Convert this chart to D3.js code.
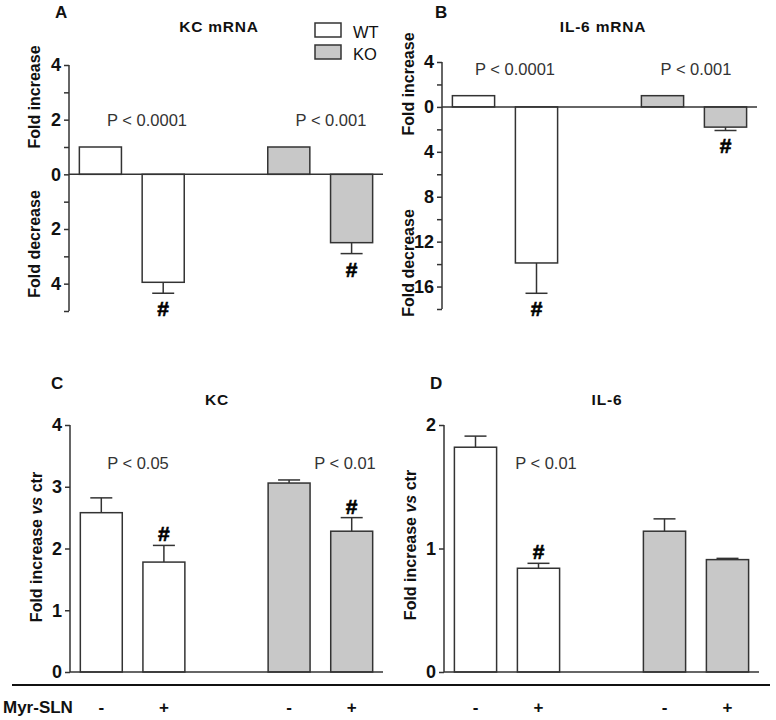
<!DOCTYPE html>
<html>
<head>
<meta charset="utf-8">
<script src="https://cdn.jsdelivr.net/npm/d3@7"></script>
<style>
  html, body { margin: 0; padding: 0; background: #fff; }
  svg { display: block; font-family: "Liberation Sans", Arial, sans-serif; }
</style>
</head>
<body>
<svg id="chart" width="776" height="720"></svg>
<script>
// ---------------- DATA ----------------
const slots = ["WT-", "WT+", "gap", "KO-", "KO+"];
const barKeys = ["WT-", "WT+", "KO-", "KO+"];
const genotype = ["WT", "WT", "KO", "KO"];
const treatment = ["-", "+", "-", "+"];
const legendLabels = ["WT", "KO"];

const kcMrnaValues = [1, -3.95, 1, -2.5];
const kcMrnaErrors = [0, 0.4, 0, 0.4];
const kcMrnaMarks = [false, true, false, true];
const kcMrnaP = ["P < 0.0001", "P < 0.001"];

const il6MrnaValues = [1, -13.9, 1, -1.8];
const il6MrnaErrors = [0, 2.7, 0, 0.3];
const il6MrnaMarks = [false, true, false, true];
const il6MrnaP = ["P < 0.0001", "P < 0.001"];

const kcValues = [2.58, 1.78, 3.06, 2.28];
const kcErrors = [0.24, 0.27, 0.05, 0.22];
const kcMarks = [false, true, false, true];
const kcP = ["P < 0.05", "P < 0.01"];

const il6Values = [1.82, 0.84, 1.14, 0.91];
const il6Errors = [0.09, 0.04, 0.10, 0.01];
const il6Marks = [false, true, false, false];
const il6P = ["P < 0.01"];

const kcMrnaTicks = [4, 2, 0, -2, -4];
const kcMrnaMinor = [3, 1, -1, -3, -5];
const il6MrnaTicks = [4, 0, -4, -8, -12, -16];
const il6MrnaMinor = [2, -2, -6, -10, -14, -18];
const kcTicks = [0, 1, 2, 3, 4];
const il6Ticks = [0, 1, 2];

// ---------------- STYLE ----------------
const fillFor = { WT: "#ffffff", KO: "#c8c8c8" };
const strokeCol = "#333333";
const textCol = "#111111";

const svg = d3.select("#chart");

function panel(cfg) {
  const g = svg.append("g");
  const x = d3.scaleBand().domain(slots).range([cfg.x0, cfg.x1])
    .paddingInner(0.33).paddingOuter(0.165);
  const y = d3.scaleLinear().domain(cfg.domain).range([cfg.yBottom, cfg.yTop]);

  if (cfg.minor) {
    g.append("g").attr("transform", `translate(${cfg.x0},0)`)
      .call(d3.axisLeft(y).tickValues(cfg.minor).tickSize(5).tickFormat(""))
      .call(a => a.select(".domain").remove())
      .selectAll("line").attr("stroke", strokeCol).attr("stroke-width", 1.5);
  }
  const ax = g.append("g").attr("transform", `translate(${cfg.x0},0)`)
    .call(d3.axisLeft(y).tickValues(cfg.ticks).tickSize(5).tickPadding(3)
      .tickFormat(d => Math.abs(d)));
  ax.select(".domain").attr("stroke", strokeCol).attr("stroke-width", 1.5)
    .attr("d", `M-0,${cfg.yBottom}V${cfg.yTop}`);
  ax.selectAll("line").attr("stroke", strokeCol).attr("stroke-width", 1.5);
  ax.selectAll("text").attr("fill", textCol)
    .style("font-size", "18px").style("font-weight", "bold")
    .style("font-family", "'Liberation Sans', Arial, sans-serif");

  const data = barKeys.map((k, i) => ({
    k, v: cfg.values[i], e: cfg.errors[i], mark: cfg.marks[i], gt: genotype[i]
  }));
  const bx = d => x(d.k);
  const bw = x.bandwidth();

  data.filter(d => d.e > 0).forEach(d => {
    const end = d.v >= 0 ? d.v + d.e : d.v - d.e;
    const cx = bx(d) + bw / 2;
    g.append("line").attr("x1", cx).attr("x2", cx)
      .attr("y1", y(d.v)).attr("y2", y(end))
      .attr("stroke", strokeCol).attr("stroke-width", 1.5);
    g.append("line").attr("x1", cx - 11).attr("x2", cx + 11)
      .attr("y1", y(end)).attr("y2", y(end))
      .attr("stroke", strokeCol).attr("stroke-width", 1.5);
  });

  g.selectAll("rect.bar").data(data).join("rect")
    .attr("class", "bar")
    .attr("x", bx).attr("width", bw)
    .attr("y", d => y(Math.max(0, d.v)))
    .attr("height", d => Math.abs(y(d.v) - y(0)))
    .attr("fill", d => fillFor[d.gt])
    .attr("stroke", strokeCol).attr("stroke-width", 1.5);

  g.append("line").attr("x1", cfg.x0).attr("x2", cfg.x1)
    .attr("y1", y(0)).attr("y2", y(0))
    .attr("stroke", strokeCol).attr("stroke-width", 1.5);

  data.filter(d => d.mark).forEach(d => {
    const end = d.v >= 0 ? d.v + d.e : d.v - d.e;
    const ty = d.v >= 0 ? y(end) - 4 : y(end) + 23;
    g.append("text").attr("x", bx(d) + bw / 2).attr("y", ty)
      .attr("text-anchor", "middle").attr("fill", "#000")
      .attr("stroke", "#000").attr("stroke-width", 0.6)
      .style("font-size", "21px").style("font-weight", "bold").text("#");
  });

  cfg.pLabels.forEach(p => {
    g.append("text").attr("x", p.x).attr("y", p.y).attr("text-anchor", "middle")
      .attr("fill", "#333").style("font-size", "16.5px").text(p.t);
  });

  g.append("text").attr("x", cfg.titleX).attr("y", cfg.titleY).attr("text-anchor", "middle")
    .attr("fill", textCol).style("font-size", "15.5px").style("font-weight", "bold")
    .style("letter-spacing", "0.8px").text(cfg.title);
  g.append("text").attr("x", cfg.letterX).attr("y", cfg.letterY)
    .attr("fill", textCol).style("font-size", "17px").style("font-weight", "bold").text(cfg.letter);

  cfg.yLabels.forEach(l => {
    const t = g.append("text")
      .attr("transform", `translate(${l.x},${l.y}) rotate(-90)`)
      .attr("text-anchor", "middle").attr("fill", textCol)
      .style("font-size", "16px").style("font-weight", "bold");
    l.parts.forEach(p => {
      t.append("tspan").style("font-style", p.italic ? "italic" : "normal").text(p.t);
    });
  });

  return { x, y };
}

const A = panel({
  x0: 69, x1: 383, yTop: 65, yBottom: 311, domain: [-5, 4],
  ticks: kcMrnaTicks, minor: kcMrnaMinor,
  values: kcMrnaValues, errors: kcMrnaErrors, marks: kcMrnaMarks,
  pLabels: [{ x: 147, y: 126, t: kcMrnaP[0] }, { x: 331, y: 126, t: kcMrnaP[1] }],
  title: "KC mRNA", titleX: 219, titleY: 32, letter: "A", letterX: 55, letterY: 18,
  yLabels: [{ x: 40, y: 97, parts: [{ t: "Fold increase" }] },
            { x: 40, y: 244, parts: [{ t: "Fold decrease" }] }]
});

const B = panel({
  x0: 442, x1: 757, yTop: 62, yBottom: 309, domain: [-18, 4],
  ticks: il6MrnaTicks, minor: il6MrnaMinor,
  values: il6MrnaValues, errors: il6MrnaErrors, marks: il6MrnaMarks,
  pLabels: [{ x: 515, y: 75, t: il6MrnaP[0] }, { x: 696, y: 75, t: il6MrnaP[1] }],
  title: "IL-6 mRNA", titleX: 603, titleY: 32, letter: "B", letterX: 435, letterY: 18,
  yLabels: [{ x: 414, y: 84, parts: [{ t: "Fold increase" }] },
            { x: 414, y: 263, parts: [{ t: "Fold decrease" }] }]
});

const C = panel({
  x0: 70, x1: 383, yTop: 425, yBottom: 672, domain: [0, 4],
  ticks: kcTicks, minor: null,
  values: kcValues, errors: kcErrors, marks: kcMarks,
  pLabels: [{ x: 138, y: 469, t: kcP[0] }, { x: 345, y: 469, t: kcP[1] }],
  title: "KC", titleX: 217, titleY: 405, letter: "C", letterX: 51, letterY: 389,
  yLabels: [{ x: 42, y: 547, parts: [{ t: "Fold increase " }, { t: "vs", italic: true }, { t: " ctr" }] }]
});

const D = panel({
  x0: 444, x1: 759, yTop: 425, yBottom: 672, domain: [0, 2],
  ticks: il6Ticks, minor: null,
  values: il6Values, errors: il6Errors, marks: il6Marks,
  pLabels: [{ x: 546, y: 469, t: il6P[0] }],
  title: "IL-6", titleX: 607, titleY: 405, letter: "D", letterX: 430, letterY: 389,
  yLabels: [{ x: 416, y: 545, parts: [{ t: "Fold increase " }, { t: "vs", italic: true }, { t: " ctr" }] }]
});

legendLabels.forEach((lab, i) => {
  const ly = [23, 45][i];
  svg.append("rect").attr("x", 315).attr("y", ly).attr("width", 26).attr("height", 14)
    .attr("fill", fillFor[lab]).attr("stroke", strokeCol).attr("stroke-width", 1.5);
  svg.append("text").attr("x", 353).attr("y", ly + 14.5).attr("fill", textCol)
    .style("font-size", "16.5px").text(lab);
});

svg.append("line").attr("x1", 12).attr("x2", 770).attr("y1", 685).attr("y2", 685)
  .attr("stroke", "#111").attr("stroke-width", 2);
svg.append("text").attr("x", 3).attr("y", 713).attr("fill", textCol)
  .style("font-size", "17px").style("font-weight", "bold").text("Myr-SLN");
[C, D].forEach(P => {
  barKeys.forEach((k, i) => {
    svg.append("text").attr("x", P.x(k) + P.x.bandwidth() / 2).attr("y", 713)
      .attr("text-anchor", "middle").attr("fill", textCol)
      .style("font-size", "17px").style("font-weight", "bold").text(treatment[i]);
  });
});
</script>
</body>
</html>
